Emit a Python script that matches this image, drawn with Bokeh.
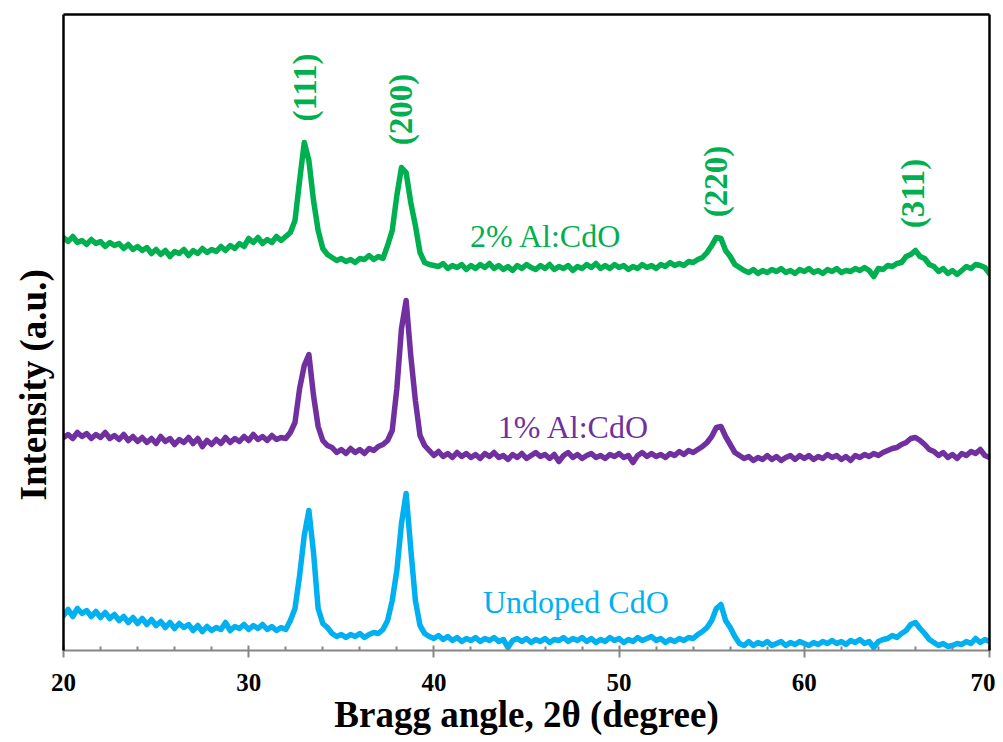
import numpy as np
from bokeh.plotting import figure
from bokeh.models import Range1d, FixedTicker, LinearAxis, Label, Title
from bokeh.embed import file_html
from bokeh.resources import INLINE

# 2-theta scan grid (degrees), 0.25 deg step
two_theta = [round(20 + 0.25 * i, 2) for i in range(201)]

# Intensity (a.u., stacked traces)
al2_cdo = [
    413, 409, 414, 408, 410, 406, 411, 407,
    409, 404, 408, 405, 407, 402, 406, 401,
    404, 400, 403, 397, 401, 396, 400, 394,
    399, 397, 401, 395, 400, 397, 402, 398,
    401, 399, 404, 400, 405, 402, 407, 404,
    412, 408, 413, 407, 411, 408, 414, 410,
    414, 418, 430, 470, 508, 490, 450, 420,
    402, 396, 393, 390, 392, 389, 391, 388,
    392, 391, 395, 391, 394, 392, 405, 420,
    455, 483, 478, 448, 425, 398, 388, 386,
    385, 384, 387, 382, 385, 383, 386, 381,
    385, 382, 386, 383, 387, 382, 385, 381,
    384, 380, 385, 382, 386, 383, 381, 385,
    382, 386, 381, 384, 382, 385, 380, 384,
    382, 386, 383, 387, 382, 385, 382, 386,
    383, 385, 381, 384, 382, 386, 383, 385,
    382, 386, 384, 388, 385, 387, 385, 389,
    388, 391, 393, 398, 405, 413, 412, 400,
    394, 386, 383, 380, 378, 381, 377, 380,
    378, 381, 379, 382, 378, 380, 377, 381,
    379, 382, 378, 380, 377, 381, 379, 382,
    378, 380, 379, 382, 380, 383, 380, 374,
    382, 381, 385, 384, 387, 388, 394, 396,
    400, 394, 392, 386, 384, 379, 382, 377,
    380, 376, 380, 384, 382, 386, 385, 383,
    377,
]

al1_cdo = [
    213, 216, 212, 218, 214, 217, 212, 216,
    213, 218, 212, 215, 211, 216, 210, 214,
    209, 213, 208, 212, 207, 214, 209, 212,
    206, 211, 208, 213, 207, 212, 204, 210,
    206, 211, 207, 213, 208, 212, 209, 214,
    210, 216, 211, 214, 210, 215, 211, 213,
    212, 218, 228, 262, 285, 296, 255, 224,
    210, 205, 203, 198, 201, 197, 202, 198,
    201, 197, 202, 200, 204, 206, 210, 220,
    262, 322, 350, 295, 250, 215, 205, 200,
    195, 199, 194, 197, 193, 198, 194, 197,
    193, 196, 192, 197, 194, 198, 193, 195,
    191, 196, 193, 197, 192, 195, 198, 194,
    196, 192, 196, 189, 195, 198, 193, 196,
    192, 195, 197, 193, 195, 192, 196, 194,
    197, 193, 195, 188, 195, 198, 194, 197,
    194, 196, 193, 197, 195, 199, 196, 200,
    198, 201, 204, 208, 214, 223, 224, 214,
    206, 198, 195, 192, 194, 190, 193, 191,
    195, 191, 194, 190, 193, 195, 191, 195,
    192, 195, 191, 194, 192, 196, 193, 195,
    191, 194, 190, 195, 193, 196, 194, 197,
    195, 198, 200, 202, 203, 206, 208, 212,
    213, 210, 206, 201, 199, 195, 198, 193,
    196, 192, 197, 195, 199, 197, 201, 195,
    193,
]

undoped_cdo = [
    35, 41, 34, 42, 37, 40, 34, 39,
    33, 38, 32, 36, 30, 34, 28, 33,
    27, 32, 26, 31, 25, 29, 23, 28,
    22, 27, 23, 26, 20, 25, 19, 24,
    20, 23, 21, 28, 20, 24, 22, 26,
    21, 25, 22, 26, 21, 24, 20, 23,
    21, 30, 42, 75, 115, 140, 98, 42,
    27, 23, 17, 14, 16, 13, 16, 14,
    17, 13, 16, 18, 17, 21, 30, 50,
    80, 127, 157, 102, 50, 25, 17, 14,
    12, 15, 11, 14, 10, 13, 9, 12,
    10, 13, 9, 12, 10, 13, 9, 11,
    3, 10, 12, 9, 12, 8, 11, 9,
    12, 8, 11, 10, 13, 9, 12, 10,
    13, 9, 12, 8, 11, 9, 13, 10,
    12, 8, 11, 9, 13, 10, 12, 14,
    10, 12, 8, 11, 9, 12, 10, 13,
    12, 16, 19, 23, 30, 42, 46, 30,
    23, 14, 7, 5, 9, 5, 8, 6,
    9, 5, 7, 9, 5, 8, 6, 9,
    7, 5, 8, 6, 9, 7, 10, 7,
    9, 6, 10, 8, 11, 7, 9, 3,
    9, 11, 12, 15, 13, 17, 20, 26,
    28, 22, 17, 11, 8, 5, 7, 4,
    5, 7, 6, 9, 7, 12, 8, 11,
    9,
]

series_names = ["2% Al:CdO", "1% Al:CdO", "Undoped CdO"]
peak_planes = ["(111)", "(200)", "(220)", "(311)"]
peak_positions = [33.2, 38.4, 55.4, 66.05]
x_ticks = [20, 30, 40, 50, 60, 70]
x_minor_ticks = [22, 24, 26, 28, 32, 34, 36, 38, 42, 44, 46, 48,
                 52, 54, 56, 58, 62, 64, 66, 68]

GREEN = "#00B050"
PURPLE = "#7030A0"
CYAN = "#00B0F0"
FONT = "Liberation Serif"

p = figure(width=995, height=742, output_backend="svg", toolbar_location=None,
           x_range=Range1d(20, 70), y_range=Range1d(0, 636),
           min_border_left=62, min_border_right=6, min_border_top=14,
           min_border_bottom=92)
p.outline_line_color = None
p.xgrid.visible = False
p.ygrid.visible = False
p.background_fill_color = "white"
p.border_fill_color = "white"

for ys, col in [(undoped_cdo, CYAN), (al1_cdo, PURPLE), (al2_cdo, GREEN)]:
    p.line(two_theta, ys, line_color=col, line_width=5.5, line_join="round",
           line_cap="round")

# x axis
xa = p.xaxis[0]
xa.ticker = FixedTicker(ticks=x_ticks, minor_ticks=x_minor_ticks)
xa.axis_line_color = "#868686"
xa.axis_line_width = 2
xa.major_tick_line_color = "#868686"
xa.major_tick_line_width = 2
xa.major_tick_in = 5
xa.major_tick_out = 7
xa.minor_tick_line_color = "#868686"
xa.minor_tick_line_width = 2
xa.minor_tick_in = 4
xa.minor_tick_out = 0
xa.major_label_text_font = FONT
xa.major_label_text_font_style = "bold"
xa.major_label_text_font_size = "25px"
xa.major_label_text_color = "black"
xa.major_label_standoff = 16
xa.axis_label = "Bragg angle, 2\u03b8 (degree)"
xa.axis_label_text_font = FONT
xa.axis_label_text_font_style = "bold"
xa.axis_label_text_font_size = "37px"
xa.axis_label_text_color = "black"
xa.axis_label_standoff = 0

# y axis (line only)
ya = p.yaxis[0]
ya.ticker = FixedTicker(ticks=[])
ya.axis_line_color = "black"
ya.axis_line_width = 2.5
ya.major_tick_line_color = None
ya.minor_tick_line_color = None
ya.major_label_standoff = 0

for side in ["above", "right"]:
    ax = LinearAxis(ticker=FixedTicker(ticks=[]), axis_line_color="black",
                    axis_line_width=2.5, major_tick_line_color=None,
                    minor_tick_line_color=None, major_label_standoff=0,
                    major_tick_out=0, major_tick_in=0)
    p.add_layout(ax, side)

# y axis title (sits below the frame centre, as in the original)
p.add_layout(Title(text="Intensity (a.u.)", align="left", offset=150,
                   standoff=20, text_font=FONT, text_font_style="bold",
                   text_font_size="37px", text_color="black"), "left")

# series labels
for name, col, lx, ly in [(series_names[0], GREEN, 41.95, 415),
                          (series_names[1], PURPLE, 43.45, 224),
                          (series_names[2], CYAN, 42.65, 49)]:
    p.add_layout(Label(x=lx, y=ly, text=name, text_align="left",
                       text_baseline="alphabetic", text_font=FONT,
                       text_font_size="32px", text_color=col))

# peak labels
for plane, pos, ly in zip(peak_planes, peak_positions, [563, 541, 469, 457]):
    p.add_layout(Label(x=pos - 0.16, y=ly, text=plane, angle=np.pi / 2,
                       text_align="center", text_baseline="middle",
                       text_font=FONT, text_font_style="bold",
                       text_font_size="33px", text_color=GREEN))

open("out.html", "w").write(file_html(p, INLINE))
